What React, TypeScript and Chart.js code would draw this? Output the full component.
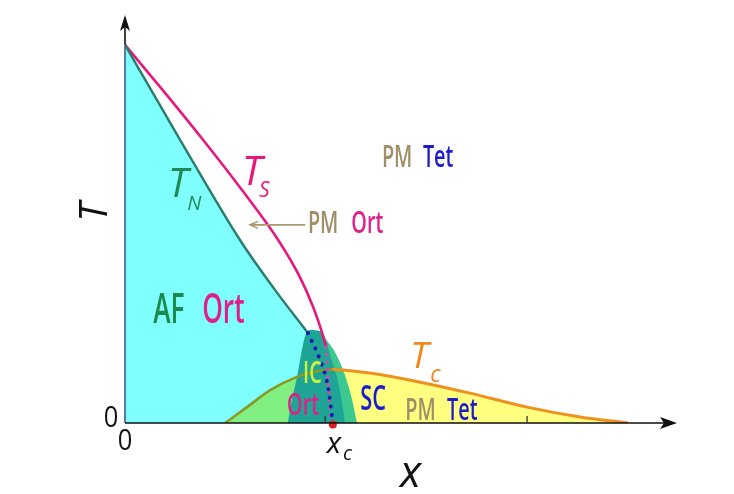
import React, { useEffect, useRef } from "react";
import { Chart, registerables } from "chart.js";

Chart.register(...registerables);

// ---- data (x: doping, T: temperature, both normalised) ----
const X_MAX = 1.373;
const Y_MAX = 1.079;

const tnX = [0, 0.137, 0.286, 0.373, 0.455];
const tnY = [1.0, 0.749, 0.484, 0.352, 0.238];

const tsX = [0, 0.0995, 0.194, 0.291, 0.381, 0.435, 0.468, 0.488, 0.5];
const tsY = [1.0, 0.873, 0.749, 0.616, 0.484, 0.386, 0.307, 0.246, 0.201];

const tsDotX = [0.5, 0.505, 0.51, 0.512];
const tsDotY = [0.201, 0.122, 0.034, 0];

const tnDotX = [0.455, 0.485, 0.505, 0.517];
const tnDotY = [0.238, 0.167, 0.095, 0];

const tcLeftX = [0.249, 0.311, 0.361, 0.428, 0.475, 0.515];
const tcLeftY = [0, 0.048, 0.087, 0.122, 0.136, 0.142];

const tcRightX = [0.515, 0.535, 0.609, 0.734, 0.858, 1.0, 1.132, 1.251];
const tcRightY = [0.142, 0.141, 0.132, 0.108, 0.079, 0.042, 0.016, 0];

const icX = [0.405, 0.415, 0.428, 0.44, 0.448, 0.46, 0.485, 0.5, 0.51, 0.527, 0.54, 0.547];
const icY = [0, 0.061, 0.122, 0.193, 0.23, 0.246, 0.243, 0.22, 0.18, 0.122, 0.053, 0];

const bandX = [0.5, 0.522, 0.547, 0.565, 0.577];
const bandY = [0.22, 0.188, 0.127, 0.061, 0];

const xcValue = 0.517;
const xTicks = [0.498, 1.0];

const pts = (xs: number[], ys: number[]) => xs.map((x, i) => ({ x, y: ys[i] }));

// ---- labels (data-space anchors) ----
const TAN = "#a08f68";
const MAG = "#e0208a";
const BLUE = "#1c1ccc";
const GREEN = "#1b8a4c";
const ORANGE = "#f08a1e";

type Lbl = { t: string; x: number; y: number; size: number; color: string; italic?: boolean; sx?: number; align?: CanvasTextAlign; base?: CanvasTextBaseline; rot?: number; w?: number };

const COND = 0.64;
const labels: Lbl[] = [
  { t: "PM", x: 0.639, y: 0.677, size: 31, color: TAN, sx: COND, w: 600 },
  { t: "Tet", x: 0.741, y: 0.677, size: 31, color: BLUE, sx: COND, w: 600 },
  { t: "PM", x: 0.455, y: 0.503, size: 31, color: TAN, sx: COND, w: 600 },
  { t: "Ort", x: 0.563, y: 0.503, size: 31, color: MAG, sx: COND, w: 600 },
  { t: "AF", x: 0.07, y: 0.265, size: 41, color: GREEN, sx: COND, w: 600 },
  { t: "Ort", x: 0.192, y: 0.265, size: 41, color: MAG, sx: COND, w: 600 },
  { t: "IC", x: 0.443, y: 0.106, size: 31, color: "#ccf040", sx: COND, w: 600 },
  { t: "Ort", x: 0.403, y: 0.021, size: 31, color: MAG, sx: COND, w: 600 },
  { t: "SC", x: 0.585, y: 0.034, size: 34, color: BLUE, sx: COND, w: 600 },
  { t: "PM", x: 0.697, y: 0.008, size: 31, color: TAN, sx: COND, w: 600 },
  { t: "Tet", x: 0.801, y: 0.008, size: 31, color: BLUE, sx: COND, w: 600 },
  { t: "T", x: 0.107, y: 0.598, size: 40, color: "#1f8a55", italic: true },
  { t: "N", x: 0.155, y: 0.563, size: 20, color: "#1f8a55", italic: true },
  { t: "T", x: 0.291, y: 0.63, size: 40, color: "#e8177f", italic: true },
  { t: "S", x: 0.333, y: 0.598, size: 21, color: "#e8177f", italic: true },
  { t: "T", x: 0.709, y: 0.146, size: 37, color: ORANGE, italic: true },
  { t: "c", x: 0.759, y: 0.108, size: 23, color: ORANGE, italic: true },
  { t: "x", x: 0.502, y: -0.079, size: 30, color: "#111", italic: true },
  { t: "c", x: 0.542, y: -0.098, size: 20, color: "#111", italic: true },
  { t: "x", x: 0.684, y: -0.169, size: 44, color: "#111", italic: true },
  { t: "0", x: -0.035, y: 0.013, size: 30, color: "#111", align: "center", base: "middle", sx: 0.85 },
  { t: "0", x: 0, y: -0.048, size: 30, color: "#111", align: "center", base: "middle", sx: 0.85 },
  { t: "T", x: -0.072, y: 0.558, size: 38, color: "#111", italic: true, align: "center", base: "middle", rot: -Math.PI / 2 },
];

const pmArrow = { x0: 0.448, x1: 0.311, y: 0.524 };

const overlay = {
  id: "overlay",
  afterDatasetsDraw(chart: any) {
    const { ctx, scales } = chart;
    const sx = scales.x;
    const sy = scales.y;
    const px = (v: number) => sx.getPixelForValue(v);
    const py = (v: number) => sy.getPixelForValue(v);
    ctx.save();
    // axes
    const ox = px(0);
    const oy = py(0);
    const xEnd = px(X_MAX);
    const yEnd = py(Y_MAX);
    ctx.lineWidth = 1.6;
    ctx.strokeStyle = "#3d5f88";
    ctx.beginPath();
    ctx.moveTo(ox, oy);
    ctx.lineTo(ox, py(1.0));
    ctx.stroke();
    ctx.strokeStyle = "#111";
    ctx.beginPath();
    ctx.moveTo(ox, py(1.0));
    ctx.lineTo(ox, yEnd + 6);
    ctx.moveTo(ox, oy);
    ctx.lineTo(xEnd - 6, oy);
    ctx.stroke();
    ctx.fillStyle = "#111";
    // y arrow
    ctx.beginPath();
    ctx.moveTo(ox, yEnd);
    ctx.lineTo(ox - 5, yEnd + 16);
    ctx.lineTo(ox, yEnd + 12);
    ctx.lineTo(ox + 5, yEnd + 16);
    ctx.closePath();
    ctx.fill();
    // x arrow
    ctx.beginPath();
    ctx.moveTo(xEnd, oy);
    ctx.lineTo(xEnd - 17, oy - 6);
    ctx.lineTo(xEnd - 13, oy);
    ctx.lineTo(xEnd - 17, oy + 6);
    ctx.closePath();
    ctx.fill();
    // ticks
    ctx.lineWidth = 1.3;
    ctx.strokeStyle = "#333";
    xTicks.forEach((t) => {
      ctx.beginPath();
      ctx.moveTo(px(t), oy);
      ctx.lineTo(px(t), oy - 7);
      ctx.stroke();
    });
    // PM Ort arrow
    ctx.strokeStyle = "#a8966e";
    ctx.lineWidth = 1.6;
    const ay = py(pmArrow.y);
    const ax1 = px(pmArrow.x1);
    ctx.beginPath();
    ctx.moveTo(px(pmArrow.x0), ay);
    ctx.lineTo(ax1, ay);
    ctx.moveTo(ax1 + 8, ay - 3.5);
    ctx.lineTo(ax1, ay);
    ctx.lineTo(ax1 + 8, ay + 3.5);
    ctx.stroke();
    // labels
    labels.forEach((l) => {
      ctx.save();
      ctx.font = `${l.italic ? "italic " : ""}${l.w || 400} ${l.size}px "Open Sans", "Noto Sans", sans-serif`;
      ctx.fillStyle = l.color;
      ctx.textAlign = l.align || "left";
      ctx.textBaseline = l.base || "alphabetic";
      ctx.translate(px(l.x), py(l.y));
      if (l.rot) ctx.rotate(l.rot);
      ctx.scale(l.sx || 1, 1);
      ctx.fillText(l.t, 0, 0);
      ctx.restore();
    });
    ctx.restore();
  },
};

export default function App() {
  const ref = useRef<HTMLCanvasElement | null>(null);
  useEffect(() => {
    if (!ref.current) return;
    const base = { pointRadius: 0, showLine: true, cubicInterpolationMode: "monotone" as const };
    const fillSet = (data: any[], color: string, order: number, mono = true) => ({
      ...base,
      cubicInterpolationMode: mono ? ("monotone" as const) : ("default" as const),
      tension: 0,
      data,
      fill: "origin",
      backgroundColor: color,
      borderWidth: 0,
      borderColor: "rgba(0,0,0,0)",
      order,
    });
    const lineSet = (data: any[], color: string, width: number, order: number, dash?: number[]) => ({
      ...base,
      data,
      fill: false,
      borderColor: color,
      borderWidth: width,
      borderDash: dash || [],
      borderCapStyle: dash ? "round" : "butt",
      order,
    });
    const chart = new Chart(ref.current, {
      type: "scatter",
      data: {
        datasets: [
          fillSet([...pts(tnX, tnY), { x: tnX[tnX.length - 1], y: 0 }], "#80ffff", 20, false),
          fillSet(pts(tcLeftX, tcLeftY), "#80ee80", 18),
          fillSet(pts(tcRightX, tcRightY), "#ffff80", 18),
          fillSet(pts(bandX, bandY), "#3cc88e", 16),
          fillSet(pts(icX, icY), "#1fa596", 15),
          lineSet(pts(tnX, tnY), "#2b7d6b", 2.4, 8),
          lineSet(pts(tsX, tsY), "#e8177f", 2.6, 8),
          lineSet(pts(tcLeftX, tcLeftY), "#8a9a22", 2.6, 8),
          lineSet(pts(tcRightX, tcRightY), "#f0901e", 3, 8),
          lineSet(pts(tsDotX, tsDotY), "#d84aa0", 3.4, 5, [0.1, 7.5]),
          lineSet(pts(tnDotX, tnDotY), "#1a1ab4", 4, 4, [0.1, 8.5]),
          {
            data: [{ x: xcValue, y: -0.004 }],
            pointRadius: 4,
            pointBackgroundColor: "#e01c1c",
            pointBorderWidth: 0,
            showLine: false,
            clip: false,
            order: 1,
          } as any,
        ],
      },
      options: {
        animation: false,
        responsive: false,
        devicePixelRatio: 1,
        layout: { padding: { left: 125, right: 57, top: 15, bottom: 71 } },
        scales: {
          x: { type: "linear", min: 0, max: X_MAX, display: false },
          y: { type: "linear", min: 0, max: Y_MAX, display: false },
        },
        plugins: { legend: { display: false }, tooltip: { enabled: false } },
        events: [],
      } as any,
      plugins: [overlay],
    } as any);
    return () => chart.destroy();
  }, []);
  return (
    <div style={{ position: "fixed", left: 0, top: 0, width: 734, height: 494, background: "#fff" }}>
      <canvas ref={ref} width={734} height={494} style={{ display: "block" }} />
    </div>
  );
}
